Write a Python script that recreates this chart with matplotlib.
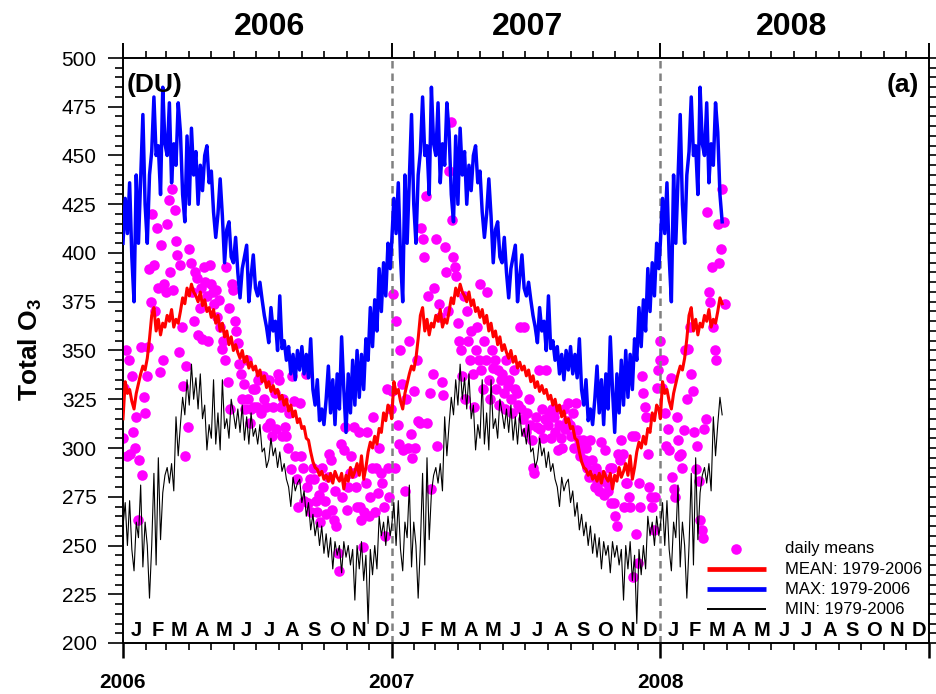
#!/usr/bin/env python3
"""Total ozone daily means 2006-2008 against the 1979-2006 climatology."""

import matplotlib

matplotlib.use("Agg")
import matplotlib.pyplot as plt  # noqa: E402
import matplotlib.transforms as mtransforms  # noqa: E402
import numpy as np  # noqa: E402
from matplotlib.ticker import FixedLocator, MultipleLocator  # noqa: E402

plt.rcParams["font.family"] = ["Liberation Sans", "DejaVu Sans"]
plt.rcParams["mathtext.fontset"] = "custom"
plt.rcParams["mathtext.rm"] = "Liberation Sans"
plt.rcParams["mathtext.bf"] = "Liberation Sans:bold"

YEARS = [2006, 2007, 2008]
MONTH_LETTERS = ["J", "F", "M", "A", "M", "J", "J", "A", "S", "O", "N", "D"]
MONTH_DAYS = [31, 28, 31, 30, 31, 30, 31, 31, 30, 31, 30, 31]

# climatology, one value every 3 days of the year (DU)
CLIM_STEP = 3
CLIM_POINTS_2008 = 29  # record stops end of March 2008

MAX_1979_2006 = [
    405, 428, 410, 436, 398, 375, 440, 405, 438, 471,
    425, 405, 440, 452, 480, 450, 455, 430, 485, 456,
    450, 477, 436, 456, 445, 477, 462, 430, 416, 460,
    425, 464, 440, 452, 425, 445, 432, 450, 455, 436,
    442, 421, 408, 420, 438, 419, 395, 412, 416, 398,
    395, 408, 390, 377, 392, 398, 404, 375, 388, 399,
    382, 378, 385, 376, 368, 362, 354, 372, 360, 365,
    350, 378, 351, 355, 345, 352, 338, 348, 335, 350,
    340, 352, 338, 348, 336, 356, 330, 322, 335, 314,
    320, 312, 325, 342, 318, 335, 312, 338, 320, 357,
    330, 308, 338, 318, 345, 322, 350, 326, 348, 330,
    356, 345, 372, 352, 376, 360, 392, 370, 395, 378,
    405, 392,
]

MEAN_1979_2006 = [
    315, 334, 328, 330, 324, 320, 328, 333, 338, 342,
    340, 346, 356, 368, 372, 360, 366, 358, 364, 362,
    368, 365, 371, 362, 366, 364, 370, 377, 374, 382,
    378, 384, 380, 378, 375, 380, 373, 376, 370, 372,
    367, 371, 364, 368, 360, 364, 357, 360, 353, 357,
    350, 353, 349, 346, 350, 344, 347, 341, 344, 340,
    342, 337, 340, 334, 337, 331, 334, 329, 332, 328,
    330, 325, 327, 322, 325, 319, 322, 316, 319, 313,
    315, 310, 311, 305, 304, 298, 293, 290, 289, 286,
    288, 284, 286, 283, 287, 282, 288, 285, 283, 287,
    279, 286, 283, 290, 285, 288, 292, 286, 296, 284,
    290, 298, 303, 300, 306, 302, 310, 308, 318, 314,
    322, 320,
]

MIN_1979_2006 = [
    260, 272, 250, 273, 248, 237, 262, 254, 281, 239,
    262, 250, 223, 250, 287, 240, 295, 253, 277, 286,
    290, 282, 292, 278, 316, 296, 312, 326, 317, 335,
    322, 343, 325, 336, 320, 338, 315, 322, 299, 312,
    305, 335, 302, 318, 299, 335, 310, 315, 305, 325,
    318, 310, 320, 308, 322, 304, 316, 302, 318, 306,
    310, 302, 312, 298, 300, 290, 294, 305, 296, 300,
    290, 298, 288, 292, 284, 280, 270, 285, 278, 282,
    284, 272, 278, 265, 272, 258, 266, 255, 262, 250,
    260, 246, 256, 244, 254, 238, 252, 245, 250, 236,
    252, 244, 250, 240, 248, 222, 250, 238, 252, 232,
    245, 210, 248, 235, 250, 238, 265, 255, 262, 250,
    265, 255,
]

# daily means, one value every 2 days from 1 January of each year (DU)
DOT_STEP = 2

DAILY_2006 = [
    305, 331, 350, 296, 345, 297, 337, 308, 300, 316,
    263, 294, 352, 286, 326, 318, 337, 352, 392, 375,
    420, 394, 370, 413, 382, 339, 404, 345, 384, 380,
    415, 427, 390, 433, 381, 422, 406, 399, 349, 394,
    362, 332, 296, 342, 311, 402, 395, 380, 365, 390,
    387, 358, 372, 382, 356, 393, 385, 378, 355, 394,
    384, 380, 374, 381, 367, 376, 362, 351, 355, 345,
    393, 334, 372, 320, 384, 381, 365, 360, 354, 343,
    338, 325, 333, 320, 345, 325, 313, 320, 330, 321,
    330, 321, 335, 337, 318, 337, 325, 321, 311, 335,
    313, 306, 321, 328, 310, 338, 335, 321, 306, 325,
    311, 306, 300, 318, 289, 337, 324, 296, 284, 270,
    323, 296, 290, 273, 338, 280, 272, 284, 267, 290,
    284, 273, 267, 276, 262, 290, 280, 273, 266, 285,
    297, 294, 268, 263, 278, 260, 246, 237, 302, 275,
    299, 311, 268, 280, 287, 296, 287, 311, 280, 270,
    308, 270, 263, 249, 267, 282, 308, 265, 275, 290,
    316, 267, 290, 277, 300, 287, 282, 270, 255, 330,
    290, 275, 320,
]

DAILY_2007 = [
    329, 379, 290, 365, 312, 302, 350, 333, 299, 278,
    325, 300, 355, 307, 295, 329, 300, 345, 314, 313,
    413, 407, 398, 429, 313, 378, 328, 279, 338, 382,
    407, 301, 374, 367, 334, 327, 403, 390, 370, 442,
    467, 417, 398, 393, 388, 364, 355, 350, 337, 378,
    325, 370, 355, 345, 360, 338, 321, 350, 362, 345,
    384, 340, 330, 355, 345, 380, 335, 325, 350, 341,
    345, 330, 340, 322, 335, 338, 328, 320, 345, 332,
    335, 325, 318, 340, 330, 328, 322, 362, 320, 315,
    362, 308, 318, 325, 312, 304, 290, 287, 316, 311,
    340, 310, 320, 305, 315, 340, 312, 318, 305, 320,
    316, 308, 320, 299, 312, 305, 300, 320, 310, 314,
    323, 312, 306, 318, 300, 323, 309, 304, 296, 300,
    304, 294, 300, 290, 285, 304, 294, 285, 280, 290,
    282, 278, 303, 286, 276, 299, 282, 278, 290, 272,
    290, 272, 265, 260, 297, 294, 304, 297, 270, 282,
    282, 275, 270, 306, 234, 306, 256, 241, 282, 270,
    337, 328, 321, 316, 297, 280, 275, 270, 258, 275,
    331, 340, 345,
]

DAILY_2008 = [
    355, 331, 345, 318, 301, 310, 299, 336, 285, 279,
    275, 316, 304, 296, 297, 290, 309, 350, 325, 351,
    362, 338, 329, 308, 289, 301, 283, 263, 258, 254,
    310, 315, 421, 380, 375, 393, 362, 350, 345, 415,
    395, 402, 433, 416, 374,
]


def px_to_axes(x_px: float, y_px: float) -> tuple[float, float]:
    # axes frame spans x 123..929 and y 58..643 in the 937x694 picture
    return (x_px - 123) / 806, (643 - y_px) / 585


def climatology_series(values: list[int]) -> tuple[np.ndarray, np.ndarray]:
    vals = np.asarray(values, dtype=float)
    days = np.arange(len(vals)) * CLIM_STEP
    xs, ys = [], []
    for year in YEARS:
        n = CLIM_POINTS_2008 if year == 2008 else len(vals)
        xs.append(year + days[:n] / 365.0)
        ys.append(vals[:n])
    return np.concatenate(xs), np.concatenate(ys)


def draw_axes_frame(ax) -> None:
    ax.set_xlim(2006, 2009)
    ax.set_ylim(200, 500)

    ax.yaxis.set_major_locator(MultipleLocator(25))
    ax.yaxis.set_minor_locator(MultipleLocator(5))
    ax.tick_params(axis="y", which="major", direction="out", length=11, width=1.2,
                   labelsize=15, pad=8, left=True, right=True, labelright=False)
    ax.tick_params(axis="y", which="minor", direction="out", length=6, width=1.2,
                   left=True, right=True)

    cum = np.cumsum([0] + MONTH_DAYS)
    month_starts = [yr + cum[m] / 365.0 for yr in YEARS for m in range(1, 12)]
    ax.xaxis.set_major_locator(FixedLocator([2006, 2007, 2008, 2009]))
    ax.xaxis.set_minor_locator(FixedLocator(month_starts))
    ax.set_xticklabels(["2006", "2007", "2008", ""], fontsize=15, fontweight="bold")
    ax.tick_params(axis="x", which="major", direction="out", length=10.5, width=1.4,
                   top=True, bottom=True, pad=11)
    ax.tick_params(axis="x", which="minor", direction="out", length=5, width=1.2,
                   top=True, bottom=True)
    for tick in ax.xaxis.get_major_ticks():
        tick.tick1line.set_color("#808080")
        tick.tick1line.set_markeredgewidth(1.8)

    for spine in ax.spines.values():
        spine.set_linewidth(1.4)

    for year in YEARS[1:]:
        ax.axvline(year, color="#808080", lw=1.8, ls=(0, (3.0, 2.0)), zorder=2.5)

    trans = mtransforms.blended_transform_factory(ax.transData, ax.transAxes)
    for year, xc in zip(YEARS, [2006.547, 2007.504, 2008.49]):
        ax.text(xc, 1.053, str(year), transform=trans, ha="center", va="center",
                fontsize=23, fontweight="bold", clip_on=False)
        for m, letter in enumerate(MONTH_LETTERS):
            xm = year + (cum[m] + MONTH_DAYS[m] / 2 + 2) / 365.0
            ax.text(xm, 0.022, letter, transform=trans, ha="center", va="center",
                    fontsize=14.5, fontweight="bold")

    ax.text(*px_to_axes(127, 85), "(DU)", transform=ax.transAxes, ha="left",
            va="center", fontsize=19, fontweight="bold")
    ax.text(*px_to_axes(919, 85), "(a)", transform=ax.transAxes, ha="right",
            va="center", fontsize=19, fontweight="bold")


def draw_legend(ax) -> None:
    x0, _ = px_to_axes(707, 0)
    x1, _ = px_to_axes(766, 0)
    xm, _ = px_to_axes(736, 0)
    xt, _ = px_to_axes(785, 0)
    rows = [px_to_axes(0, y)[1] for y in (549, 569, 589, 609)]
    entries = [
        ("MEAN: 1979-2006", "red", 3.4),
        ("MAX: 1979-2006", "blue", 3.4),
        ("MIN: 1979-2006", "black", 1.4),
    ]
    ax.scatter([xm], [rows[0]], s=58, color="#ff00ff", linewidths=0,
               transform=ax.transAxes, zorder=5)
    ax.text(xt, rows[0], "daily means", transform=ax.transAxes, va="center", fontsize=12)
    for (label, color, lw), yr in zip(entries, rows[1:]):
        ax.plot([x0, x1], [yr, yr], color=color, lw=lw, transform=ax.transAxes,
                solid_capstyle="butt", zorder=5)
        ax.text(xt, yr, label, transform=ax.transAxes, va="center", fontsize=12)


def main() -> None:
    fig = plt.figure(figsize=(9.37, 6.94), dpi=100)
    ax = fig.add_axes([123 / 937, 1 - 643 / 694, 806 / 937, 585 / 694])

    for year, vals in zip(YEARS, [DAILY_2006, DAILY_2007, DAILY_2008]):
        days = np.arange(len(vals)) * DOT_STEP
        ax.scatter(year + days / 365.0, vals, s=58, color="#ff00ff",
                   linewidths=0, zorder=2)

    x, y = climatology_series(MEAN_1979_2006)
    ax.plot(x, y, color="red", lw=2.2, zorder=3)
    x, y = climatology_series(MAX_1979_2006)
    ax.plot(x, y, color="blue", lw=2.5, zorder=3)
    x, y = climatology_series(MIN_1979_2006)
    ax.plot(x, y, color="black", lw=0.8, zorder=3)

    draw_axes_frame(ax)
    draw_legend(ax)

    fig.text(30 / 937, 1 - 350 / 694, r"Total O$_\mathbf{3}$", rotation=90,
             ha="center", va="center", fontsize=19, fontweight="bold")

    fig.savefig("out.png", dpi=100)
    plt.close(fig)


if __name__ == "__main__":
    main()
